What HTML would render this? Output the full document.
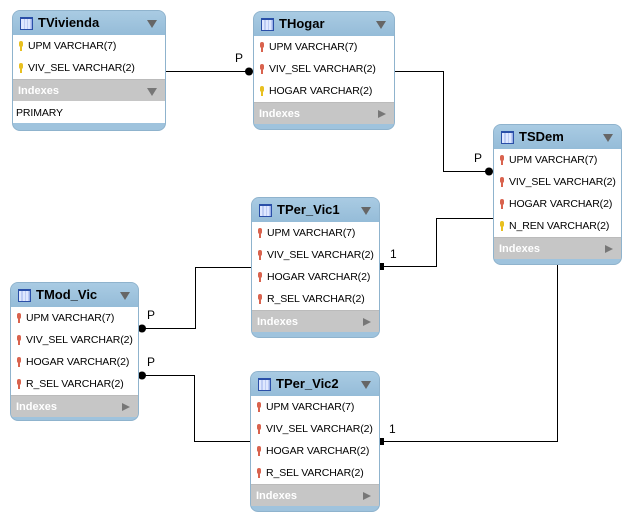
<!DOCTYPE html>
<html><head><meta charset="utf-8"><style>
body{margin:0;width:625px;height:516px;background:#fff;position:relative;overflow:hidden;font-family:"Liberation Sans","DejaVu Sans",sans-serif;}
.t{position:absolute;background:#9fc3dd;border:1px solid #8fb3cd;border-radius:8px;box-sizing:border-box;overflow:hidden}
.h{height:24px;position:relative;font-weight:bold;font-size:13px;line-height:24px;padding-left:25px;color:#000;background:linear-gradient(#a9cbe3,#95bcd8)}
.h i{position:absolute;left:7px;top:6px;width:11px;height:10px;border:1px solid #2a4fa8;background:linear-gradient(90deg,#dfe8ff 0 25%,#9bb0e8 25% 30%,#dfe8ff 30% 55%,#9bb0e8 55% 60%,#dfe8ff 60% 85%,#9bb0e8 85%);border-top:2px solid #2a4fa8}
.h b{position:absolute;right:8px;top:9px;width:0;height:0;border-left:5px solid transparent;border-right:5px solid transparent;border-top:8px solid #666}
.r{height:22px;background:#fff;font-size:10.5px;letter-spacing:-0.1px;line-height:23px;padding-left:15px;position:relative;white-space:nowrap}
.r:before{content:"";position:absolute;left:6px;top:6px;width:4px;height:6px;border-radius:2px;background:#d9634e}
.r:after{content:"";position:absolute;left:7px;top:11px;width:2px;height:5px;background:#d9634e}
.r.y:before,.r.y:after{background:#e8c020}
.r.n:before,.r.n:after{display:none}
.r.n{padding-left:3px;line-height:25px}
.ix{height:22px;background:#c6c6c6;color:#fff;font-weight:bold;font-size:11px;line-height:23px;padding-left:5px;position:relative;border-top:1px solid #bbb;box-sizing:border-box}
.ix b{position:absolute;right:8px;top:7px;width:0;height:0;border-top:4px solid transparent;border-bottom:4px solid transparent;border-left:8px solid #777}
.ix b.d{top:8px;border-left:5px solid transparent;border-right:5px solid transparent;border-top:8px solid #777;border-bottom:0}
.lb{position:absolute;font-size:12px}
</style></head><body>
<svg width="625" height="516" style="position:absolute;left:0;top:0" fill="none" stroke="#000" stroke-width="1">
<polyline points="166,71.5 249,71.5"/>
<polyline points="395,71.5 443.5,71.5 443.5,171.5 489,171.5"/>
<polyline points="493,218.5 436.5,218.5 436.5,266.5 381,266.5"/>
<polyline points="251,267.5 195.5,267.5 195.5,328.5 142,328.5"/>
<polyline points="250,441.5 194.5,441.5 194.5,375.5 142,375.5"/>
<polyline points="557.5,264 557.5,441.5 381,441.5"/>
<g fill="#000" stroke="none">
<circle cx="249" cy="71.5" r="4"/><circle cx="489" cy="171.5" r="4"/>
<circle cx="142" cy="328.5" r="4"/><circle cx="142" cy="375.5" r="4"/>
<rect x="379" y="263" width="5" height="7"/><rect x="379" y="438" width="5" height="7"/>
</g></svg>
<div class="lb" style="left:235px;top:51px">P</div>
<div class="lb" style="left:474px;top:151px">P</div>
<div class="lb" style="left:390px;top:247px">1</div>
<div class="lb" style="left:147px;top:308px">P</div>
<div class="lb" style="left:147px;top:355px">P</div>
<div class="lb" style="left:389px;top:422px">1</div>

<div class="t" style="left:12px;top:10px;width:154px;height:121px">
<div class="h"><i></i>TVivienda<b></b></div>
<div class="r y">UPM VARCHAR(7)</div><div class="r y">VIV_SEL VARCHAR(2)</div>
<div class="ix">Indexes<b class="d"></b></div><div class="r n">PRIMARY</div></div>

<div class="t" style="left:253px;top:11px;width:142px;height:119px">
<div class="h"><i></i>THogar<b></b></div>
<div class="r">UPM VARCHAR(7)</div><div class="r">VIV_SEL VARCHAR(2)</div><div class="r y">HOGAR VARCHAR(2)</div>
<div class="ix">Indexes<b></b></div></div>

<div class="t" style="left:493px;top:124px;width:129px;height:141px">
<div class="h"><i></i>TSDem<b></b></div>
<div class="r">UPM VARCHAR(7)</div><div class="r">VIV_SEL VARCHAR(2)</div><div class="r">HOGAR VARCHAR(2)</div><div class="r y">N_REN VARCHAR(2)</div>
<div class="ix">Indexes<b></b></div></div>

<div class="t" style="left:251px;top:197px;width:129px;height:141px">
<div class="h"><i></i>TPer_Vic1<b></b></div>
<div class="r">UPM VARCHAR(7)</div><div class="r">VIV_SEL VARCHAR(2)</div><div class="r">HOGAR VARCHAR(2)</div><div class="r">R_SEL VARCHAR(2)</div>
<div class="ix">Indexes<b></b></div></div>

<div class="t" style="left:10px;top:282px;width:129px;height:139px">
<div class="h"><i></i>TMod_Vic<b></b></div>
<div class="r">UPM VARCHAR(7)</div><div class="r">VIV_SEL VARCHAR(2)</div><div class="r">HOGAR VARCHAR(2)</div><div class="r">R_SEL VARCHAR(2)</div>
<div class="ix">Indexes<b></b></div></div>

<div class="t" style="left:250px;top:371px;width:130px;height:141px">
<div class="h"><i></i>TPer_Vic2<b></b></div>
<div class="r">UPM VARCHAR(7)</div><div class="r">VIV_SEL VARCHAR(2)</div><div class="r">HOGAR VARCHAR(2)</div><div class="r">R_SEL VARCHAR(2)</div>
<div class="ix">Indexes<b></b></div></div>
</body></html>
